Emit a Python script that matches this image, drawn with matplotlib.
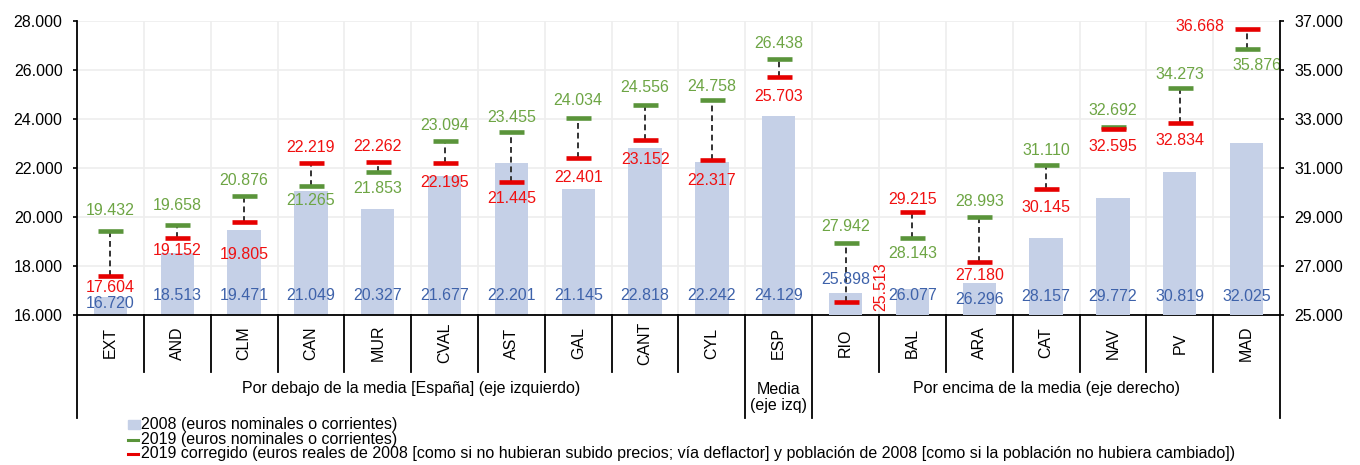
import matplotlib
matplotlib.use("Agg")
import matplotlib.pyplot as plt
import matplotlib.transforms as mtransforms
from matplotlib.ticker import FuncFormatter, FixedLocator
from matplotlib.lines import Line2D
from matplotlib.patches import Rectangle

# ---------------- data ----------------
categories = ["EXT", "AND", "CLM", "CAN", "MUR", "CVAL", "AST", "GAL", "CANT", "CYL",
              "ESP", "RIO", "BAL", "ARA", "CAT", "NAV", "PV", "MAD"]
v2008 = [16720, 18513, 19471, 21049, 20327, 21677, 22201, 21145, 22818, 22242,
         24129, 25898, 26077, 26296, 28157, 29772, 30819, 32025]
v2019 = [19432, 19658, 20876, 21265, 21853, 23094, 23455, 24034, 24556, 24758,
         26438, 27942, 28143, 28993, 31110, 32692, 34273, 35876]
v2019c = [17604, 19152, 19805, 22219, 22262, 22195, 21445, 22401, 23152, 22317,
          25703, 25513, 29215, 27180, 30145, 32595, 32834, 36668]
n_left = 11  # EXT..ESP plotted on the left axis, the rest on the right axis
left_ticks = [16000, 18000, 20000, 22000, 24000, 26000, 28000]
right_ticks = [25000, 27000, 29000, 31000, 33000, 35000, 37000]
group_labels = ["Por debajo de la media [España] (eje izquierdo)",
                "Media\n(eje izq)",
                "Por encima de la media (eje derecho)"]
group_spans = [(0, 9), (10, 10), (11, 17)]
legend_labels = [
    "2008 (euros nominales o corrientes)",
    "2019 (euros nominales o corrientes)",
    "2019 corregido (euros reales de 2008 [como si no hubieran subido precios; vía deflactor] "
    "y población de 2008 [como si la población no hubiera cambiado])",
]

# ---------------- style ----------------
plt.rcParams['font.family'] = ['Liberation Sans', 'DejaVu Sans']
FS = 11.5
PX = 0.72  # points per pixel at dpi 100
C_BAR = "#C5D0E7"
C_BLUE_T = "#3E62AA"
C_GREEN = "#5A943A"
C_GREEN_T = "#6DA544"
C_RED = "#E60000"
C_RED_T = "#F01010"
C_GRID = "#EEEEEE"

# label offsets (pixels, up positive) and horizontal shifts
green_dy = [20, 20, 15, -14, -17, 16, 15, 18, 18, 14, 16, 16, -16, 16, 15, 16, 13, -17]
green_dx = [0] * 17 + [10]
red_dy = [-12, -13, -33, 15, 15, -19, -17, -19, -20, -20, -19, 16, 12, -14, -19, -18, -17, 3]
red_dx = [0] * 11 + [35] + [0] * 5 + [-47]
red_rot = [0] * 11 + [90] + [0] * 6
blue_dy = [12, 19, 19, 20, 19, 19, 19, 19, 19, 19, 19, 36, 20, 16, 19, 19, 19, 19]
group_dy = [73, 82.5, 73]

W, H = 1360, 465
fig = plt.figure(figsize=(W / 100, H / 100), dpi=100)
L, R, T, B = 77, 1280, 21, 315
ax = fig.add_axes([L / W, 1 - B / H, (R - L) / W, (B - T) / H])
ax2 = ax.twinx()

n = len(categories)
ax.set_xlim(-0.5, n - 0.5)
ax.set_ylim(left_ticks[0], left_ticks[-1])
ax2.set_ylim(right_ticks[0], right_ticks[-1])

fmt = FuncFormatter(lambda v, p: f"{v:,.0f}".replace(",", "."))
ax.yaxis.set_major_locator(FixedLocator(left_ticks))
ax2.yaxis.set_major_locator(FixedLocator(right_ticks))
for a in (ax, ax2):
    a.yaxis.set_major_formatter(fmt)
    for s in a.spines.values():
        s.set_visible(False)
ax.spines['left'].set_visible(True)
ax.spines['bottom'].set_visible(True)
ax2.spines['right'].set_visible(True)
for s in (ax.spines['left'], ax.spines['bottom'], ax2.spines['right']):
    s.set_linewidth(1.3)
    s.set_color("black")
    s.set_zorder(5)

ax.tick_params(axis='y', direction='out', length=4 * PX, width=1.2, pad=7.5, labelsize=FS)
ax2.tick_params(axis='y', direction='out', length=4 * PX, width=1.2, pad=7.5, labelsize=FS)
ax.set_xticks([])
ax2.set_xticks([])

# grid
for y in left_ticks:
    ax.axhline(y, color=C_GRID, lw=1.2, zorder=0)
for i in range(n - 1):
    ax.axvline(i + 0.5, color=C_GRID, lw=1.2, zorder=0)


def lbl(v):
    return f"{v:,}".replace(",", ".")


for i in range(n):
    a = ax if i < n_left else ax2
    a.bar(i, v2008[i], width=0.5, color=C_BAR, zorder=1)
    lo, hi = sorted([v2019[i], v2019c[i]])
    a.vlines(i, lo, hi, colors="#333333", linestyles=(0, (3, 2)), lw=1.4, zorder=2)
    a.plot([i], [v2019[i]], marker='_', ms=25 * PX, mew=4.6 * PX, color=C_GREEN, zorder=3)
    a.plot([i], [v2019c[i]], marker='_', ms=25 * PX, mew=4.6 * PX, color=C_RED, zorder=3)
    a.annotate(lbl(v2019[i]), xy=(i, v2019[i]), xytext=(green_dx[i] * PX, green_dy[i] * PX),
               textcoords='offset points', ha='center', va='center', fontsize=FS,
               color=C_GREEN_T, zorder=4)
    a.annotate(lbl(v2019c[i]), xy=(i, v2019c[i]), xytext=(red_dx[i] * PX, red_dy[i] * PX),
               textcoords='offset points', ha='center', va='center', fontsize=FS,
               color=C_RED_T, rotation=red_rot[i], zorder=4)
    a.annotate(lbl(v2008[i]), xy=(i, 0), xycoords=('data', 'axes fraction'),
               xytext=(0, blue_dy[i] * PX), textcoords='offset points',
               ha='center', va='center', fontsize=FS, color=C_BLUE_T, zorder=4)

# category area below the axis
trans = mtransforms.blended_transform_factory(ax.transData, ax.transAxes)
ph = B - T
tall = {-0.5, 9.5, 10.5, n - 0.5}
for k in range(n + 1):
    xb = k - 0.5
    depth = 103 if xb in tall else 57
    ax.add_line(Line2D([xb, xb], [0, -depth / ph], transform=trans, color="black",
                       lw=1.3, clip_on=False))
for i, c in enumerate(categories):
    ax.text(i, -28 / ph, c, transform=trans, rotation=90, ha='center', va='center',
            fontsize=FS)
for g, (a0, a1), gy in zip(group_labels, group_spans, group_dy):
    ax.text((a0 + a1) / 2, -gy / ph, g, transform=trans, ha='center', va='center',
            fontsize=FS, linespacing=1.1)

# legend (manual)
fig.patches.append(Rectangle((128 / W, 1 - 429 / H), 12 / W, 9 / H, transform=fig.transFigure,
                             color=C_BAR, figure=fig))
fig.lines.append(Line2D([128 / W, 138 / W], [1 - 439.5 / H] * 2, transform=fig.transFigure,
                        color=C_GREEN, lw=2.2))
fig.lines.append(Line2D([128 / W, 138 / W], [1 - 454 / H] * 2, transform=fig.transFigure,
                        color=C_RED, lw=2.2))
for t, yy in zip(legend_labels, [424.5, 439, 453.5]):
    fig.text(141 / W, 1 - yy / H, t, ha='left', va='center', fontsize=FS)

fig.savefig("out.png", dpi=100)
